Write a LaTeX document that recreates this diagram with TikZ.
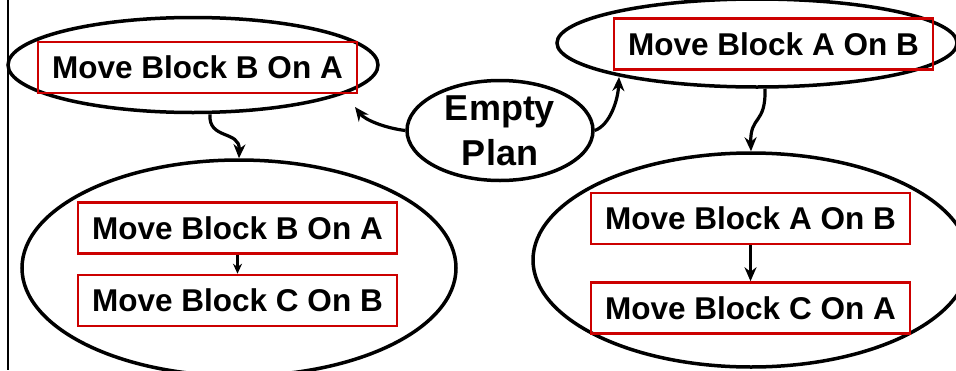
\documentclass[tikz,border=0pt]{standalone}
\usepackage{fontspec}
\setmainfont{Liberation Sans}
\usepackage{tikz}
\usetikzlibrary{arrows.meta,shapes,positioning}
\definecolor{actred}{RGB}{204,0,0}
\tikzset{
	plan/.style={ellipse, draw=black, line width=3.5pt, inner sep=0pt},
	act/.style={rectangle, draw=actred, line width=2.5pt, minimum width=319pt,
		minimum height=51pt, inner sep=0pt, font=\bfseries\fontsize{31.5}{38}\selectfont},
}

\begin{document}
\begin{tikzpicture}[x=1pt, y=-1pt, ->, >={Stealth[length=14pt,width=12pt]}, line width=3.2pt]
	\useasboundingbox (0,0) rectangle (956,370);
	\draw[-, line width=2.5pt] (8,0) -- (8,370);
	% the two one-step plans
	\node[plan, minimum width=370pt, minimum height=95pt] (ba) at (193,65) {};
	\node[plan, minimum width=400pt, minimum height=88pt] (ab) at (757,43) {};
	\node[act] (baA) at (197.5,67.5) {Move Block B On A};
	\node[act] (abA) at (773.5,44) {Move Block A On B};
	% the empty plan
	\node[plan, minimum width=186pt, minimum height=100pt, align=center,
		font=\bfseries\fontsize{36}{45}\selectfont] (empty) at (500,130.5) {Empty\\Plan};
	% the two two-step plans
	\node[plan, minimum width=434pt, minimum height=216pt] (bc) at (239,268) {};
	\node[plan, minimum width=436pt, minimum height=214pt] (ac) at (751,260) {};
	\node[act] (bcA) at (237.5,228) {Move Block B On A};
	\node[act, below=19pt of bcA] (bcC) {Move Block C On B};
	\node[act] (acA) at (750.5,218.5) {Move Block A On B};
	\node[act, below=36pt of acA] (acC) {Move Block C On A};
	\coordinate (bahit) at (355,107);
	\coordinate (abhit) at (619,77);
	\draw (empty.west) .. controls (385,128) and (365,120) .. (bahit);
	\draw (empty.east) .. controls (610,125) and (618,100) .. (abhit);
	\draw ([xshift=17pt]ba.south) .. controls (208,140) and (240,130) .. (bc.north);
	\draw ([xshift=8pt]ab.south) .. controls (766,125) and (750,115) .. (ac.north);
	\path[line width=2.5pt, >={Stealth[length=10pt,width=9pt]}] (bcA) edge (bcC);
	\path (acA) edge (acC);
\end{tikzpicture}
\end{document}
